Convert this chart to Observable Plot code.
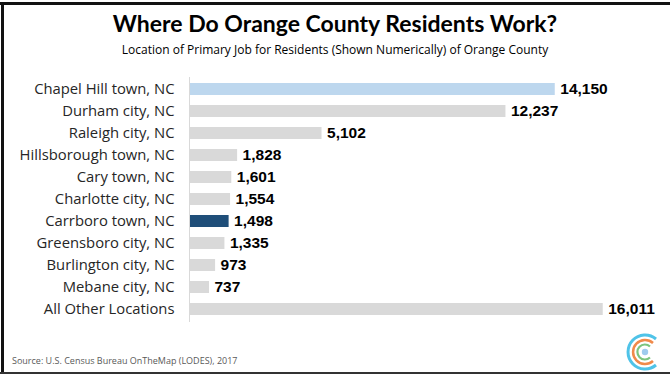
<!DOCTYPE html>
<html>
<head>
<meta charset="utf-8">
<script src="https://cdn.jsdelivr.net/npm/d3@7"></script>
<script src="https://cdn.jsdelivr.net/npm/@observablehq/plot@0.6"></script>
<style>
  html, body { margin: 0; padding: 0; background: #fff; }
  #frame { position: relative; width: 670px; height: 376px; overflow: hidden; background: #fff; }
  #frame .bt { position: absolute; left: 0; top: 2px; width: 670px; height: 3px; background: #111; }
  #frame .bl { position: absolute; left: 1px; top: 2px; width: 3px; height: 372px; background: #111; }
  #frame .bb { position: absolute; left: 0; top: 372px; width: 670px; height: 2px; background: #333; }
  #title { position: absolute; left: 0; width: 670px; top: 9px; text-align: center;
    font-family: Lato, sans-serif; font-weight: 700; font-size: 23px; color: #000; }
  #subtitle { position: absolute; left: 0; width: 670px; top: 41px; text-align: center;
    font-family: "Open Sans", sans-serif; font-size: 12px; color: #000; }
  #caption { position: absolute; left: 12px; top: 354px;
    font-family: "Open Sans", sans-serif; font-size: 9px; color: #595959; }
  #chart { position: absolute; left: 0; top: 70px; }
  #logo { position: absolute; left: 620px; top: 330px; }
</style>
</head>
<body>
<div id="frame">
  <div class="bt"></div><div class="bl"></div><div class="bb"></div>
  <div id="title">Where Do Orange County Residents Work?</div>
  <div id="subtitle">Location of Primary Job for Residents (Shown Numerically) of Orange County</div>
  <div id="chart"></div>
  <div id="caption">Source: U.S. Census Bureau OnTheMap (LODES), 2017</div>
  <svg id="logo" width="50" height="44" viewBox="0 0 50 44">
    <path d="M 36 9 A 17 17 0 1 0 36 35" fill="none" stroke="#4fc3e8" stroke-width="3"/>
    <path d="M 33 13 A 12 12 0 1 0 33 31" fill="none" stroke="#f08a4b" stroke-width="2.5"/>
    <path d="M 30 16.5 A 7.5 7.5 0 1 0 30 27.5" fill="none" stroke="#7cc47f" stroke-width="2.2"/>
    <circle cx="25" cy="22" r="3.2" fill="#9fcbee"/>
  </svg>
</div>
<script>
const locations = [
  "Chapel Hill town, NC",
  "Durham city, NC",
  "Raleigh city, NC",
  "Hillsborough town, NC",
  "Cary town, NC",
  "Charlotte city, NC",
  "Carrboro town, NC",
  "Greensboro city, NC",
  "Burlington city, NC",
  "Mebane city, NC",
  "All Other Locations"
];
const jobs = [14150, 12237, 5102, 1828, 1601, 1554, 1498, 1335, 973, 737, 16011];
const highlight = {"Chapel Hill town, NC": "light", "Carrboro town, NC": "dark"};
const colors = {light: "#bdd7ee", dark: "#1f4e79", other: "#d9d9d9"};

const data = locations.map((name, i) => ({name, value: jobs[i], kind: highlight[name] || "other"}));
const fmt = d3.format(",");

const chart = Plot.plot({
  width: 670,
  height: 260,
  marginLeft: 190,
  marginRight: 16,
  marginTop: 7,
  marginBottom: 8,
  style: {fontFamily: "'Open Sans', sans-serif", background: "transparent"},
  x: {domain: [0, 18000], axis: null},
  y: {domain: locations, padding: 0.44, paddingOuter: 0.22, label: null, tickSize: 0, tickPadding: 16},
  marks: [
    Plot.barX(data, {x: "value", y: "name", fill: d => colors[d.kind]}),
    Plot.ruleX([0], {stroke: "#d9d9d9", strokeWidth: 1, dx: -1}),
    Plot.text(data, {x: "value", y: "name", text: d => fmt(d.value), textAnchor: "start", dx: 5,
      fontFamily: "'Liberation Sans', Arial, sans-serif", fontWeight: "bold", fontSize: 15.5, fill: "#000"}),
    Plot.axisY({tickSize: 0, tickPadding: 16, fontSize: 14.8, color: "#262626", label: null})
  ]
});
document.getElementById("chart").appendChild(chart);
</script>
</body>
</html>
